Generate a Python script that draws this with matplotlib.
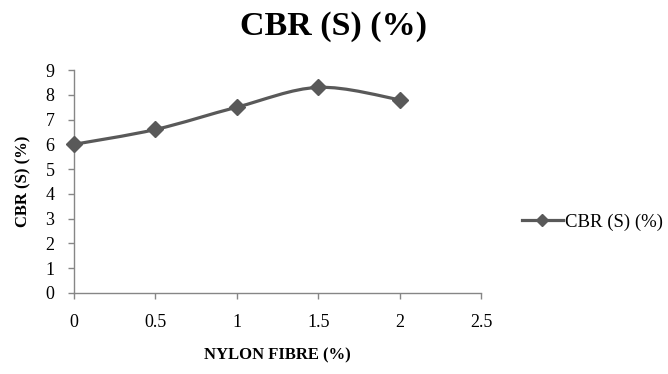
import matplotlib
matplotlib.use("Agg")
import matplotlib.pyplot as plt
from matplotlib.path import Path
from matplotlib.patches import PathPatch
from matplotlib.lines import Line2D
import numpy as np

x_vals = [0, 0.5, 1, 1.5, 2]
cbr_s = [6.0, 6.6, 7.5, 8.3, 7.8]
series_name = "CBR (S) (%)"
title = "CBR (S) (%)"
x_label = "NYLON FIBRE (%)"
y_label = "CBR (S) (%)"
x_ticks = [0, 0.5, 1, 1.5, 2, 2.5]
x_tick_labels = ["0", "0.5", "1", "1.5", "2", "2.5"]
y_ticks = list(range(0, 10))

plt.rcParams['font.family'] = ['Liberation Serif', 'DejaVu Serif']

line_col = "#595959"
axis_col = "#868686"

fig = plt.figure(figsize=(6.68, 3.74), dpi=100)
ax = fig.add_axes([0.1108, 0.2166, 0.6093, 0.5962])

# smooth curve (Excel-style) built as Bezier path in data coordinates
P = np.column_stack([x_vals, cbr_s])
n = len(P)
verts = [tuple(P[0])]
codes = [Path.MOVETO]
for i in range(n - 1):
    p0 = P[i - 1] if i > 0 else P[i]
    p1 = P[i]
    p2 = P[i + 1]
    p3 = P[i + 2] if i + 2 < n else P[i + 1]
    c1 = p1 + (p2 - p0) / 6.0
    c2 = p2 - (p3 - p1) / 6.0
    verts += [tuple(c1), tuple(c2), tuple(p2)]
    codes += [Path.CURVE4] * 3
path = Path(verts, codes)
ax.add_patch(PathPatch(path, facecolor="none", edgecolor=line_col, lw=2.3,
                       capstyle="round", joinstyle="round", zorder=3))
ax.plot(x_vals, cbr_s, linestyle="none", marker="D", markersize=8,
        color=line_col, zorder=4, clip_on=False)

ax.set_xlim(0, 2.5)
ax.set_ylim(0, 9)
ax.set_xticks(x_ticks)
ax.set_xticklabels(x_tick_labels)
ax.set_yticks(y_ticks)
for s in ["top", "right"]:
    ax.spines[s].set_visible(False)
for s in ["left", "bottom"]:
    ax.spines[s].set_color(axis_col)
    ax.spines[s].set_linewidth(1.0)
ax.tick_params(axis="both", colors=axis_col, length=4, width=1.0,
               labelsize=13, labelcolor="black")
ax.tick_params(axis="x", pad=11)
ax.tick_params(axis="y", pad=10)

ax.set_xlabel(x_label, fontsize=12, fontweight="bold", labelpad=12)
ax.set_ylabel(y_label, fontsize=12, fontweight="bold", labelpad=10)
fig.suptitle(title, x=0.5, y=0.97, fontsize=24.5, fontweight="bold")

handle = Line2D([], [], color=line_col, lw=2.3, marker="D", markersize=6)
fig.legend([handle], [series_name], loc="center left",
           bbox_to_anchor=(0.781, 0.406), frameon=False, fontsize=13.5,
           handlelength=2.2, handletextpad=0.1, borderpad=0, borderaxespad=0)

fig.savefig("out.png", dpi=100)
